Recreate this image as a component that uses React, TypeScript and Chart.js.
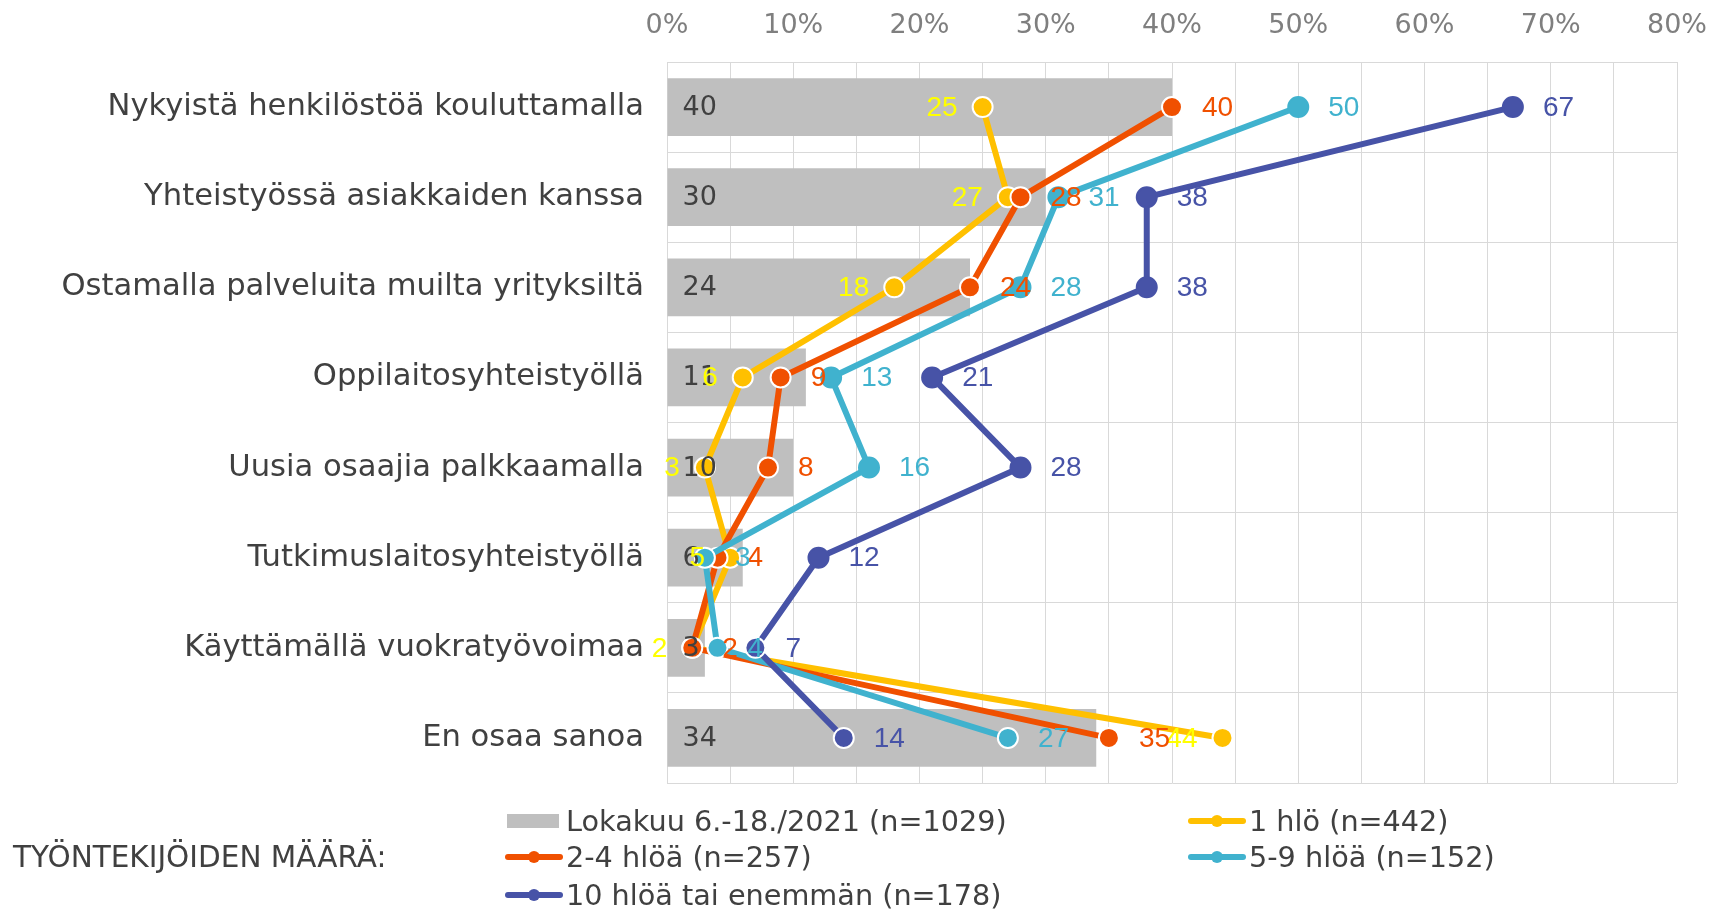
import React, { useEffect, useRef } from "react";
import { Chart, registerables } from "chart.js";

Chart.register(...registerables);

const categories = [
  "Nykyistä henkilöstöä kouluttamalla",
  "Yhteistyössä asiakkaiden kanssa",
  "Ostamalla palveluita muilta yrityksiltä",
  "Oppilaitosyhteistyöllä",
  "Uusia osaajia palkkaamalla",
  "Tutkimuslaitosyhteistyöllä",
  "Käyttämällä vuokratyövoimaa",
  "En osaa sanoa",
];

const totalValues = [40, 30, 24, 11, 10, 6, 3, 34];
const oneValues = [25, 27, 18, 6, 3, 5, 2, 44];
const twoFourValues = [40, 28, 24, 9, 8, 4, 2, 35];
const fiveNineValues = [50, 31, 28, 13, 16, 3, 4, 27];
const tenPlusValues = [67, 38, 38, 21, 28, 12, 7, 14];

const xTicks = [0, 10, 20, 30, 40, 50, 60, 70, 80];

const seriesNames = [
  "Lokakuu 6.-18./2021 (n=1029)",
  "1 hlö (n=442)",
  "2-4 hlöä (n=257)",
  "5-9 hlöä (n=152)",
  "10 hlöä tai enemmän (n=178)",
];

const GREY = "#BFBFBF";
const YELLOW = "#FFC000";
const ORANGE = "#F05000";
const TEAL = "#40B2CE";
const BLUE = "#4753A7";

const labelStyles = [
  { color: "#404040", font: "27px 'DejaVu Sans'", mode: "base" },
  { color: "#FFFF00", font: "28px 'Liberation Sans'", mode: "left" },
  { color: ORANGE, font: "28px 'Liberation Sans'", mode: "right" },
  { color: TEAL, font: "28px 'Liberation Sans'", mode: "right" },
  { color: BLUE, font: "28px 'Liberation Sans'", mode: "right" },
];

const valueLabelPlugin = {
  id: "valueLabels",
  afterDatasetsDraw(chart: any) {
    const ctx = chart.ctx;
    ctx.save();
    chart.data.datasets.forEach((ds: any, di: number) => {
      const meta = chart.getDatasetMeta(di);
      const st = labelStyles[di];
      ctx.font = st.font;
      ctx.fillStyle = st.color;
      ctx.textBaseline = "middle";
      meta.data.forEach((el: any, i: number) => {
        const txt = String(ds.data[i]);
        if (st.mode === "base") {
          ctx.textAlign = "left";
          ctx.fillText(txt, el.base + 15, el.y + 1);
        } else if (st.mode === "left") {
          ctx.textAlign = "right";
          ctx.fillText(txt, el.x - 25, el.y + 1);
        } else {
          ctx.textAlign = "left";
          ctx.fillText(txt, el.x + 30, el.y + 1);
        }
      });
    });
    ctx.restore();
  },
};

function borderArr(color: string, whiteIdx: number[]) {
  return categories.map((_, i) => (whiteIdx.includes(i) ? "#FFFFFF" : color));
}

const lineDs = (label: string, data: number[], color: string, order: number, border: any) => ({
  type: "line" as const,
  label,
  data,
  borderColor: color,
  backgroundColor: color,
  borderWidth: 6,
  pointRadius: 10,
  pointBorderWidth: 2,
  pointBackgroundColor: color,
  pointBorderColor: border,
  pointHoverRadius: 10,
  tension: 0,
  order,
  clip: false as any,
});

function LegendLine({ color }: { color: string }) {
  return (
    <div style={{ position: "relative", width: 58, height: 14 }}>
      <div style={{ position: "absolute", left: 0, top: 4, width: 58, height: 6, background: color, borderRadius: 3 }} />
      <div style={{ position: "absolute", left: 23, top: 1, width: 12, height: 12, background: color, borderRadius: 6 }} />
    </div>
  );
}

const legendText: React.CSSProperties = {
  fontFamily: "'DejaVu Sans'",
  fontSize: 28.7,
  color: "#404040",
  whiteSpace: "nowrap",
  lineHeight: "34px",
};

function LegendItem({ x, y, marker, text }: { x: number; y: number; marker: React.ReactNode; text: string }) {
  return (
    <div style={{ position: "absolute", left: x, top: y - 17, height: 34, display: "flex", alignItems: "center" }}>
      <div style={{ width: 59, display: "flex", alignItems: "center" }}>{marker}</div>
      <span style={{ ...legendText, marginLeft: 2 }}>{text}</span>
    </div>
  );
}

export default function App() {
  const ref = useRef<HTMLCanvasElement | null>(null);

  useEffect(() => {
    document.body.style.margin = "0";
    const canvas = ref.current;
    if (!canvas) return;
    const chart = new Chart(canvas, {
      type: "bar",
      data: {
        labels: categories,
        datasets: [
          {
            type: "bar",
            label: seriesNames[0],
            data: totalValues,
            backgroundColor: GREY,
            borderWidth: 0,
            categoryPercentage: 1,
            barPercentage: 0.64,
            order: 10,
          } as any,
          lineDs(seriesNames[1], oneValues, YELLOW, 4, "#FFFFFF"),
          lineDs(seriesNames[2], twoFourValues, ORANGE, 3, "#FFFFFF"),
          lineDs(seriesNames[3], fiveNineValues, TEAL, 2, borderArr(TEAL, [5, 6, 7])),
          lineDs(seriesNames[4], tenPlusValues, BLUE, 1, borderArr(BLUE, [6, 7])),
        ],
      },
      options: {
        indexAxis: "y",
        responsive: false,
        animation: false,
        devicePixelRatio: 1,
        layout: { padding: { left: 0, top: 0, right: 34, bottom: 126 } },
        plugins: {
          legend: { display: false },
          tooltip: { enabled: false },
        },
        scales: {
          x: {
            type: "linear",
            position: "top",
            min: 0,
            max: 80,
            afterFit: (s: any) => {
              s.height = 62;
              s.paddingLeft = 0;
              s.paddingRight = 0;
            },
            afterBuildTicks: (s: any) => {
              const arr: any[] = [];
              for (let v = 0; v <= 80; v += 5) arr.push({ value: v });
              s.ticks = arr;
            },
            ticks: {
              autoSkip: false,
              maxRotation: 0,
              padding: 20,
              color: "#7F7F7F",
              font: { family: "'DejaVu Sans'", size: 27 },
              callback: (v: any) => (xTicks.includes(Number(v)) ? v + "%" : ""),
            },
            grid: { color: "#D9D9D9", lineWidth: 1, drawTicks: false },
            border: { display: true, color: "#D9D9D9" },
          },
          y: {
            type: "category",
            afterFit: (s: any) => {
              s.width = 667;
            },
            ticks: {
              padding: 23,
              color: "#404040",
              font: { family: "'DejaVu Sans'", size: 30.6 },
            },
            grid: { color: "#D9D9D9", lineWidth: 1, drawTicks: false, offset: true },
            border: { display: true, color: "#D9D9D9" },
          },
        },
      } as any,
      plugins: [valueLabelPlugin],
    });
    return () => chart.destroy();
  }, []);

  return (
    <div style={{ position: "relative", width: 1711, height: 909, overflow: "hidden", background: "#fff" }}>
      <canvas ref={ref} width={1711} height={909} style={{ display: "block", position: "absolute", left: 0, top: 0 }} />
      <div style={{ ...legendText, fontSize: 29.5, position: "absolute", left: 13, top: 857 - 17 }}>TYÖNTEKIJÖIDEN MÄÄRÄ:</div>
      <LegendItem
        x={505}
        y={821}
        marker={<div style={{ width: 52, height: 14, marginLeft: 2, background: GREY }} />}
        text={seriesNames[0]}
      />
      <LegendItem x={1188} y={821} marker={<LegendLine color={YELLOW} />} text={seriesNames[1]} />
      <LegendItem x={505} y={857} marker={<LegendLine color={ORANGE} />} text={seriesNames[2]} />
      <LegendItem x={1188} y={857} marker={<LegendLine color={TEAL} />} text={seriesNames[3]} />
      <LegendItem x={505} y={895} marker={<LegendLine color={BLUE} />} text={seriesNames[4]} />
    </div>
  );
}
